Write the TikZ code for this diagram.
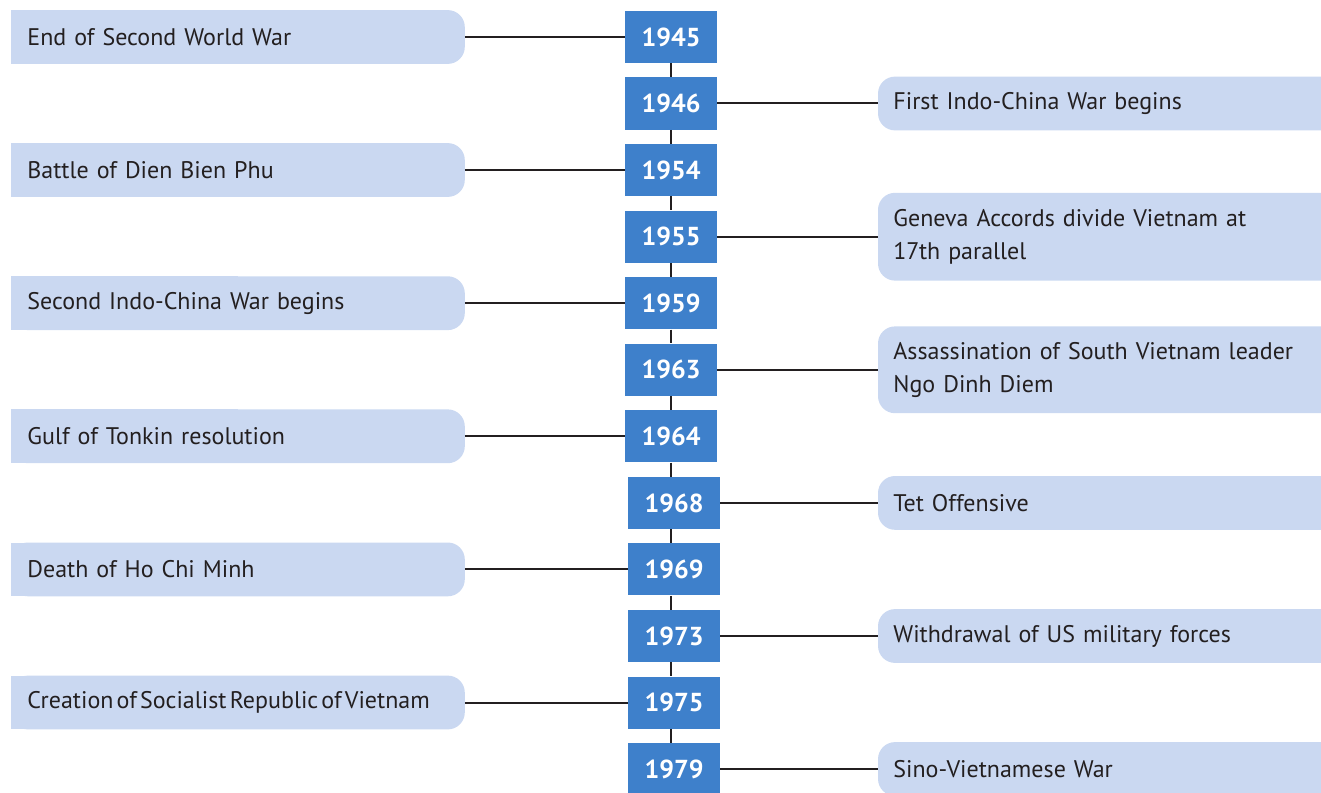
\documentclass[tikz,border=0pt]{standalone}
\usepackage{fontspec}
\setmainfont{PT Sans}
\usetikzlibrary{backgrounds}
\definecolor{yearBlue}{HTML}{3E80CB}
\definecolor{paleBlue}{HTML}{CAD8F1}
\definecolor{inkGrey}{HTML}{231F20}
\tikzset{
  yearbox/.style={fill=yearBlue,text=white,font=\fontsize{13}{15}\selectfont\bfseries,
    minimum width=46pt,minimum height=26pt,inner sep=0pt},
  evleft/.style={anchor=west,text=inkGrey,font=\fontsize{12}{16.5}\selectfont,
    text width=210.5pt,align=left,minimum height=26.5pt,inner xsep=8pt,inner ysep=0pt},
  evright/.style={anchor=west,text=inkGrey,font=\fontsize{12}{16.5}\selectfont,
    text width=216pt,align=left,minimum height=26.5pt,inner xsep=7.5pt,inner ysep=0pt},
  link/.style={draw=inkGrey,line width=1pt}
}

\begin{document}
\begin{tikzpicture}[x=0.5pt,y=-0.5pt]
    \useasboundingbox (0,0) rectangle (1321,792);
    \clip (0,0) rectangle (1321,792);
    \coordinate (lx) at (11,0);
    \coordinate (rx) at (878,0);
    % year column
    \foreach \yr/\yy/\xx in {1945/37/671,1946/103.5/671,1954/170/671,1955/236.7/671,
        1959/303.2/671,1963/369.8/671,1964/436.3/671,1968/502.9/674,1969/569.4/674,
        1973/636/674,1975/702.5/674,1979/769/674}
      \node[yearbox] (y\yr) at (\xx,\yy) {\yr};
    % events on the left
    \foreach \yr/\txt in {1945/End of Second World War,1954/Battle of Dien Bien Phu,
        1959/Second Indo-China War begins,1964/Gulf of Tonkin resolution,
        1969/Death of Ho Chi Minh}
      \node[evleft] (e\yr) at (lx |- y\yr) {\txt};
    \node[evleft] (e1975) at (lx |- y1975)
      {\spaceskip=1.6pt\relax\mbox{Creation of Socialist Republic of Vietnam}};
    % events on the right
    \foreach \yr/\txt in {1946/First Indo-China War begins,1968/Tet Offensive,
        1973/Withdrawal of US military forces,1979/Sino-Vietnamese War}
      \node[evright] (e\yr) at (rx |- y\yr) {\txt};
    \node[evright,minimum height=43.5pt] (e1955) at (rx |- y1955)
      {Geneva Accords divide Vietnam at\\17th parallel};
    \node[evright,minimum height=43pt] (e1963) at (rx |- y1963)
      {Assassination of South Vietnam leader\\Ngo Dinh Diem};
    \begin{scope}[on background layer]
      \foreach \e in {1945,1954,1959,1964,1969,1975} {
        \fill[paleBlue,rounded corners=8.5pt] (e\e.north west) rectangle (e\e.south east);
        \fill[paleBlue] (e\e.north west) rectangle (e\e.south);
      }
      \foreach \e in {1946,1955,1963,1968,1973,1979}
        \fill[paleBlue,rounded corners=8.5pt] (e\e.north west) rectangle (e\e.south east);
    \end{scope}
    % connectors
    \foreach \yr in {1945,1954,1959,1964,1969,1975}
      \draw[link] (e\yr.east) -- (y\yr.west);
    \foreach \yr in {1946,1955,1963,1968,1973,1979}
      \draw[link] (y\yr.east) -- (e\yr.west);
    \foreach \a/\b in {1945/1946,1946/1954,1954/1955,1955/1959,1959/1963,1963/1964,
        1964/1968,1968/1969,1969/1973,1973/1975,1975/1979}
      \draw[link] (y\a.south -| y1945) -- (y\b.north -| y1945);
\end{tikzpicture}
\end{document}
